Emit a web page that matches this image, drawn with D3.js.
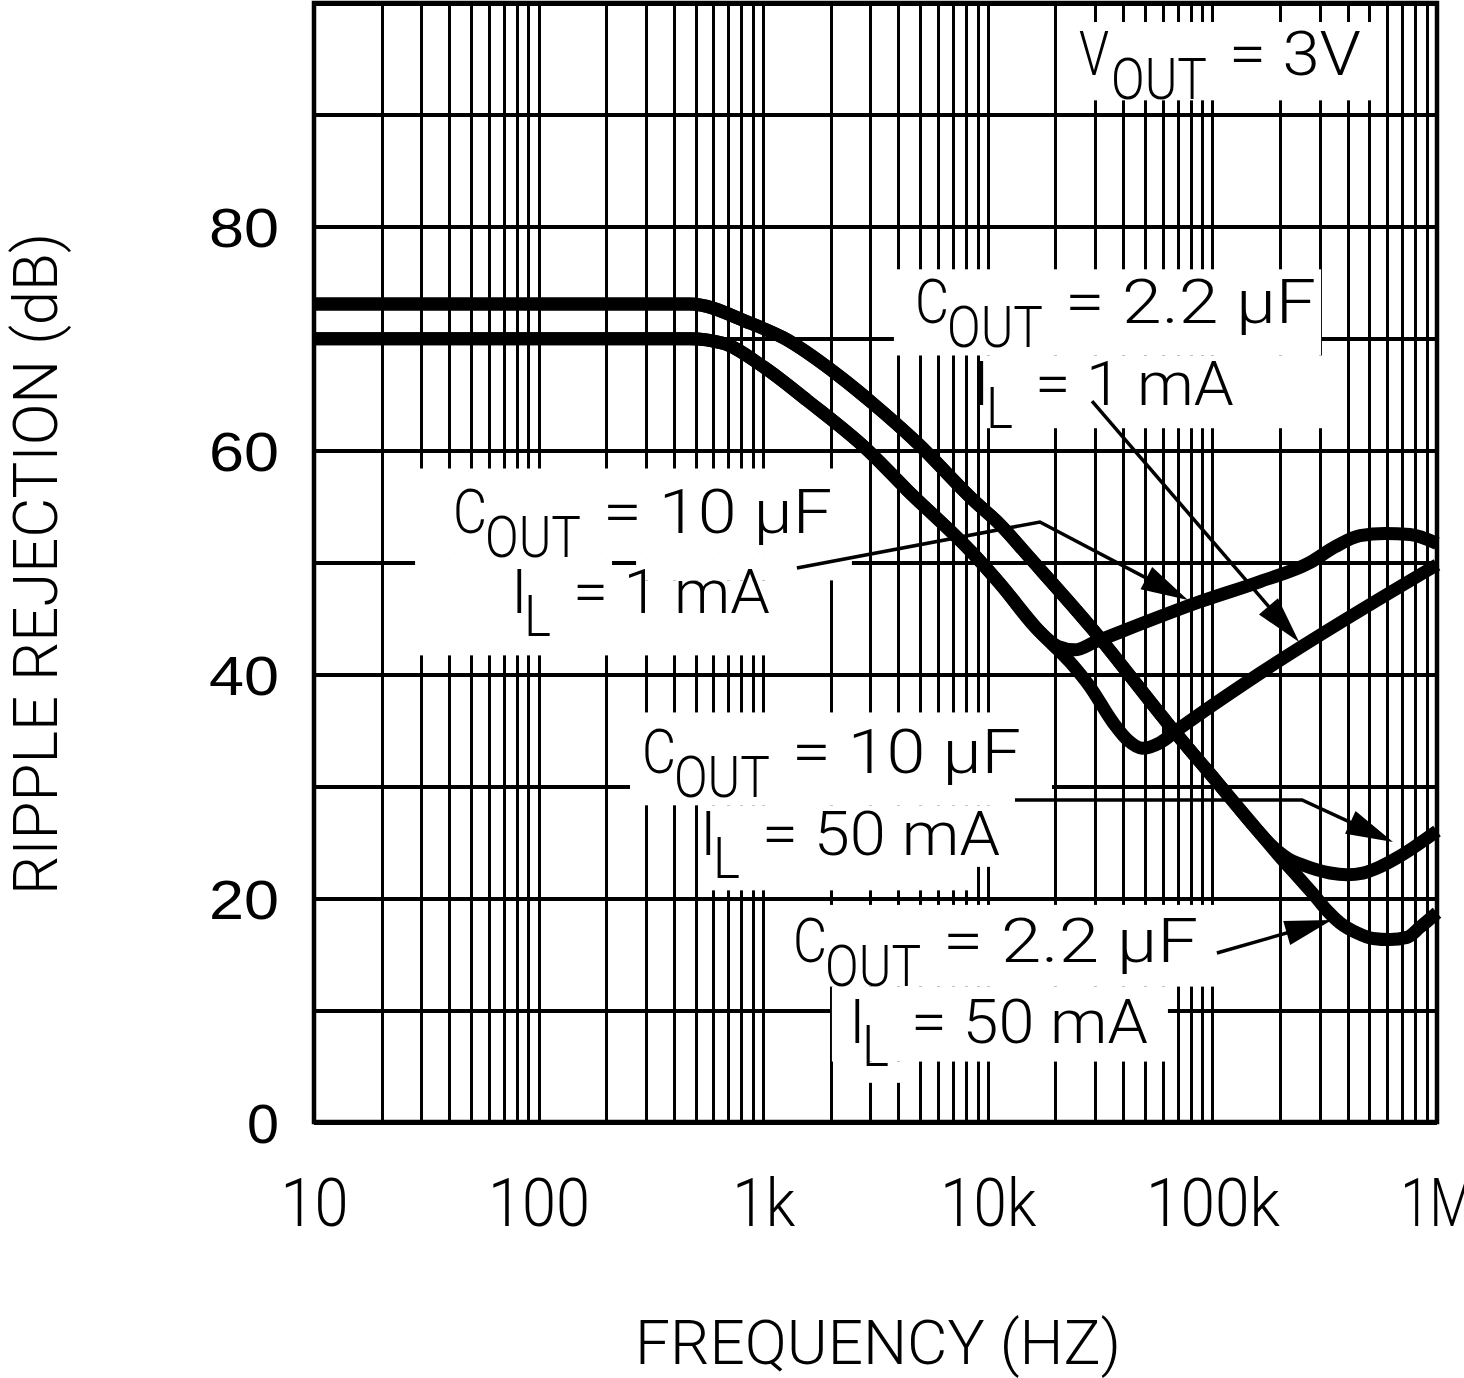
<!DOCTYPE html>
<html><head><meta charset="utf-8">
<script src="https://cdn.jsdelivr.net/npm/d3@7"></script>
<style>html,body{margin:0;padding:0;background:#fff}svg{display:block}</style>
</head><body>
<svg id="chart" width="1464" height="1378"></svg>
<script>
// ---------------- data ----------------
const xTickValues = [10, 100, 1000, 10000, 100000, 1000000];
const xTickLabels = ["10", "100", "1k", "10k", "100k", "1M"];
const yTickValues = [0, 20, 40, 60, 80];
const yTickLabels = ["0", "20", "40", "60", "80"];

// C_OUT = 2.2 uF, I_L = 1 mA
const freq_22u_1mA = [10, 472, 662, 1000, 1567, 2897, 4365, 8590, 11330, 17060, 23230, 28500, 36100, 42100, 48600, 58500, 69500, 163000, 1000000];
const db_22u_1mA   = [70.0, 70.0, 69.6, 67.5, 64.5, 60.1, 56.5, 50.8, 48.1, 43.8, 41.1, 38.9, 35.7, 34.1, 33.4, 33.9, 35.0, 40.1, 49.8];

// C_OUT = 10 uF, I_L = 1 mA
const freq_10u_1mA = [10, 472, 662, 1000, 1567, 2897, 4365, 8590, 11330, 17060, 20560, 24430, 30000, 88100, 163000, 272000, 351600, 454000, 586000, 758000, 1000000];
const db_10u_1mA   = [70.0, 70.0, 69.6, 67.5, 64.5, 60.1, 56.5, 50.8, 48.1, 43.8, 42.5, 42.2, 42.9, 46.5, 48.3, 50.0, 51.4, 52.4, 52.6, 52.5, 51.7];

// C_OUT = 10 uF, I_L = 50 mA
const freq_10u_50mA = [10, 472, 873, 1225, 2198, 3083, 4842, 8590, 11330, 15420, 29380, 62800, 104700, 163000, 180300, 214800, 258000, 334200, 397000, 468000, 557000, 663000, 782000, 1000000];
const db_10u_50mA   = [73.1, 73.1, 71.4, 70.1, 66.6, 64.2, 60.7, 55.6, 53.4, 50.4, 44.0, 35.7, 30.4, 25.8, 24.85, 23.6, 22.9, 22.25, 22.1, 22.25, 22.8, 23.6, 24.5, 26.0];

// C_OUT = 2.2 uF, I_L = 50 mA
const freq_22u_50mA = [10, 472, 873, 1225, 2198, 3083, 4842, 8590, 11330, 15420, 29380, 62800, 104700, 163000, 194000, 245500, 280500, 323600, 369800, 440500, 518800, 618000, 734500, 839600, 1000000];
const db_22u_50mA   = [73.1, 73.1, 71.4, 70.1, 66.6, 64.2, 60.7, 55.6, 53.4, 50.4, 44.0, 35.7, 30.4, 25.8, 24.0, 21.7, 20.4, 18.9, 17.8, 16.9, 16.4, 16.3, 16.5, 17.4, 18.7];

const seriesFreq = [freq_22u_1mA, freq_10u_1mA, freq_10u_50mA, freq_22u_50mA];
const seriesDb   = [db_22u_1mA, db_10u_1mA, db_10u_50mA, db_22u_50mA];

// ---------------- layout ----------------
const plot = {left: 314, right: 1437, top: 3, bottom: 1122};
const x = d3.scaleLog().domain([10, 1e6]).range([plot.left, plot.right]);
const y = d3.scaleLinear().domain([0, 100]).range([plot.bottom, plot.top]);
const X = e => x(Math.pow(10, e));   // position from decade exponent
const FONT = "Roboto, 'Liberation Sans', Arial, sans-serif";
const FONT_Y = "'Liberation Sans', Arial, sans-serif";

const svg = d3.select("#chart");
svg.append("rect").attr("width", 1464).attr("height", 1378).attr("fill", "#fff");

// grid via axes
const vg = svg.append("g").attr("transform", `translate(0,${plot.bottom})`)
  .call(d3.axisBottom(x).tickValues(x.ticks()).tickSize(-(plot.bottom - plot.top)).tickFormat(""));
vg.select(".domain").remove();
vg.selectAll("line").attr("stroke", "#000").attr("stroke-width", 3).attr("shape-rendering", "crispEdges");

const hg = svg.append("g").attr("transform", `translate(${plot.left},0)`)
  .call(d3.axisLeft(y).tickValues(d3.range(0, 101, 10)).tickSize(-(plot.right - plot.left)).tickFormat(""));
hg.select(".domain").remove();
hg.selectAll("line").attr("stroke", "#000").attr("stroke-width", 4).attr("shape-rendering", "crispEdges");

// white label backgrounds: [log f left, log f right, dB top, dB bottom]
const boxes = [
  [4.344, 5.746, 98.3, 91.3],
  [3.582, 5.484, 76.2, 68.5],
  [3.979, 5.488, 68.5, 62.0],
  [1.450, 3.395, 58.4, 50.4],
  [1.450, 2.327, 50.4, 41.7],
  [2.434, 3.395, 50.4, 48.4],
  [2.434, 3.119, 48.4, 41.7],
  [2.407, 4.286, 36.6, 28.3],
  [2.719, 3.930, 28.3, 20.7],
  [3.930, 4.054, 28.3, 22.8],
  [3.066, 5.012, 19.4, 12.1],
  [3.306, 4.802, 12.1, 5.4],
  [3.431, 3.631, 5.4, 3.5]
];
svg.append("g").selectAll("rect").data(boxes).join("rect")
  .attr("x", d => X(d[0])).attr("width", d => X(d[1]) - X(d[0]))
  .attr("y", d => y(d[2])).attr("height", d => y(d[3]) - y(d[2]))
  .attr("fill", "#fff");

// frame
svg.append("rect").attr("x", plot.left).attr("y", plot.top)
  .attr("width", plot.right - plot.left).attr("height", plot.bottom - plot.top)
  .attr("fill", "none").attr("stroke", "#000").attr("stroke-width", 4.5);

// curves
const line = d3.line().x(d => x(d[0])).y(d => y(d[1])).curve(d3.curveMonotoneX);
svg.append("g").selectAll("path").data(seriesFreq.map((f, i) => f.map((v, j) => [v, seriesDb[i][j]])))
  .join("path").attr("d", line).attr("fill", "none").attr("stroke", "#000")
  .attr("stroke-width", 13).attr("stroke-linejoin", "round").attr("stroke-linecap", "butt");

// leader lines with arrows: points as [log f, dB]
const leaders = [
  [[4.464, 64.43], [5.386, 42.90]],
  [[3.150, 49.51], [4.232, 53.62], [4.891, 46.65]],
  [[4.121, 28.78], [5.399, 28.78], [5.804, 25.02]],
  [[5.020, 15.10], [5.532, 18.05]]
];
const lg = svg.append("g");
leaders.forEach(pts => {
  const p = pts.map(d => [X(d[0]), y(d[1])]);
  const a = p[p.length - 2], t = p[p.length - 1];
  const dx = t[0] - a[0], dy = t[1] - a[1], len = Math.hypot(dx, dy);
  const ux = dx / len, uy = dy / len, AL = 47, HW = 12.5;
  const bx = t[0] - ux * AL, by = t[1] - uy * AL;
  const lp = p.slice(0, -1).concat([[t[0] - ux * 20, t[1] - uy * 20]]);
  lg.append("path").attr("d", d3.line()(lp)).attr("fill", "none").attr("stroke", "#000")
    .attr("stroke-width", 3.5).attr("stroke-linejoin", "miter");
  lg.append("path").attr("d", d3.line()([[t[0], t[1]], [bx - uy * HW, by + ux * HW], [bx + uy * HW, by - ux * HW]]) + "Z")
    .attr("fill", "#000");
});

// annotation labels: anchor [log f, dB] at left/baseline of first glyph
const labels = [
  {kind: "C", e: 4.415, db: 93.57, main: "V", sub: "OUT", rest: "= 3V", w: 126},
  {kind: "C", e: 3.685, db: 71.40, main: "C", sub: "OUT", rest: "= 2.2 \u00b5F", w: 245},
  {kind: "I", e: 3.956, db: 64.08, main: "I", sub: "L", rest: "= 1 mA", w: 193},
  {kind: "C", e: 1.628, db: 52.64, main: "C", sub: "OUT", rest: "= 10 \u00b5F", w: 223},
  {kind: "I", e: 1.899, db: 45.49, main: "I", sub: "L", rest: "= 1 mA", w: 191},
  {kind: "C", e: 2.469, db: 31.19, main: "C", sub: "OUT", rest: "= 10 \u00b5F", w: 223},
  {kind: "I", e: 2.741, db: 23.86, main: "I", sub: "L", rest: "= 50 mA", w: 232},
  {kind: "C", e: 3.142, db: 14.30, main: "C", sub: "OUT", rest: "= 2.2 \u00b5F", w: 249},
  {kind: "I", e: 3.404, db: 7.06, main: "I", sub: "L", rest: "= 50 mA", w: 231}
];
const tg = svg.append("g").attr("font-family", FONT).attr("font-weight", 300).attr("fill", "#000");
function piece(t, x0, y0, str, size, len) {
  const el = t.append("tspan").attr("x", x0).attr("y", y0).attr("font-size", size).text(str);
  if (len) el.attr("textLength", len).attr("lengthAdjust", "spacingAndGlyphs");
}
labels.forEach(l => {
  const ax = X(l.e), ay = y(l.db);
  const t = tg.append("text");
  if (l.kind === "C") {
    piece(t, ax - 2, ay, l.main, 62, l.main === "V" ? 30 : 34);
    piece(t, ax + 30, ay + 24, l.sub, 58, 96);
    piece(t, ax + 148, ay, l.rest, 62, l.w + 6);
  } else {
    piece(t, ax - 5, ay, l.main, 62, null);
    piece(t, ax + 8, ay + 23, l.sub, 58, 27);
    piece(t, ax + 57, ay, l.rest, 62, l.w + 6);
  }
});

// x tick labels
const xLabelLen = [68, 102, 63, 96, 134, 74];
const xa = svg.append("g").attr("transform", `translate(0,${plot.bottom})`)
  .call(d3.axisBottom(x).tickValues(xTickValues).tickFormat((d, i) => xTickLabels[i]).tickSize(0).tickPadding(0));
xa.select(".domain").remove();
xa.selectAll("text").attr("y", 104).attr("dy", 0).attr("font-size", 66).attr("font-family", FONT)
  .attr("font-weight", 300).attr("fill", "#000")
  .attr("textLength", (d, i) => xLabelLen[i]).attr("lengthAdjust", "spacingAndGlyphs");

// y tick labels
const yLabelLen = d => (d < 10 ? 32 : 70);
const ya = svg.append("g").attr("transform", `translate(${plot.left},0)`)
  .call(d3.axisLeft(y).tickValues(yTickValues).tickFormat((d, i) => yTickLabels[i]).tickSize(0).tickPadding(0));
ya.select(".domain").remove();
ya.selectAll("text").attr("x", -35).attr("dy", "0.36em").attr("font-size", 56).attr("font-family", FONT_Y)
  .attr("fill", "#000").attr("textLength", yLabelLen).attr("lengthAdjust", "spacingAndGlyphs");

// axis titles
svg.append("text").attr("x", 635).attr("y", 1364).attr("font-family", FONT).attr("font-weight", 300)
  .attr("font-size", 62).attr("textLength", 486).attr("lengthAdjust", "spacingAndGlyphs").text("FREQUENCY (HZ)");
svg.append("text").attr("transform", "translate(57,895) rotate(-90)").attr("font-family", FONT).attr("font-weight", 300)
  .attr("font-size", 62).attr("textLength", 662).attr("lengthAdjust", "spacingAndGlyphs").text("RIPPLE REJECTION (dB)");
</script>
</body></html>
